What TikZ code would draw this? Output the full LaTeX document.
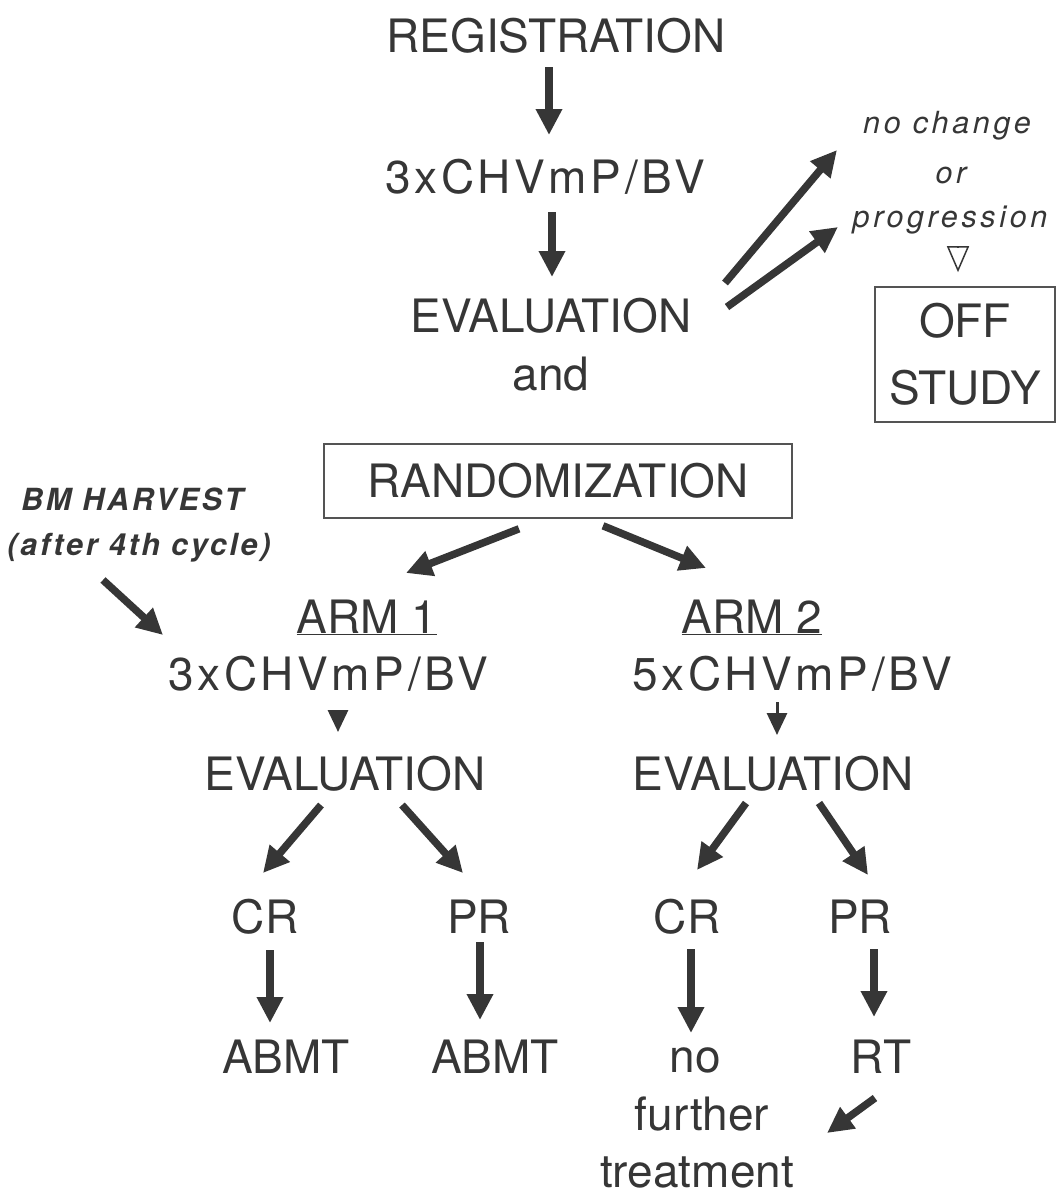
\documentclass[tikz,border=0pt]{standalone}
\usepackage{fontspec}
\setmainfont{TeX Gyre Heros}
\usetikzlibrary{arrows.meta}
\definecolor{ink}{HTML}{363636}
\newcommand\flowfont{\fontsize{46}{55}\selectfont}
\newcommand\notefont{\fontsize{30.5}{36}\selectfont\itshape\addfontfeature{LetterSpace=12}}

\begin{document}
\begin{tikzpicture}[
    x=1pt, y=-1pt,
    every node/.style={text=ink},
    txt/.style={anchor=base, inner sep=0pt, text height=33pt, text depth=0pt, font=\flowfont},
    regimen/.style={txt, font=\flowfont\addfontfeature{LetterSpace=8}},
    note/.style={anchor=base, inner sep=0pt, text height=22pt, text depth=0pt, font=\notefont},
    boldnote/.style={note, font=\fontsize{30.5}{36}\selectfont\bfseries\itshape\addfontfeature{LetterSpace=9}},
    boxed/.style={draw=ink!85, line width=1.6pt, inner sep=0pt},
    arr/.style={draw=ink, line width=7.5pt, -{Triangle[length={26pt 0},width={25pt 0}]}},
    smallarr/.style={draw=ink, line width=3pt, -{Triangle[length={22pt 0},width={20pt 0}]}},
    opentip/.style={draw=ink, line width=1.5pt, -{Triangle[open,length={26pt 0},width={22pt 0}]}}
  ]
  \useasboundingbox (0,0) rectangle (1057,1195);

  % common trunk
  \node[txt] (reg) at (556,52) {REGISTRATION};
  \node[regimen] (ind) at (545,193) {3xCHVmP/BV};
  \node[txt] (eval0) at (551,332) {EVALUATION};
  \node[txt] (andn) at (551,390) {and};
  \node[boxed, font=\flowfont, text height=33pt, text depth=0pt,
        minimum width=468pt, minimum height=74pt] (rand) at (558,481) {RANDOMIZATION};

  % off study branch
  \node[note] (nochg) at (947,133) {no change};
  \node[note] (orn) at (951,183) {or};
  \node[note] (prog) at (950,227) {progression};
  \node[boxed, align=center, font=\fontsize{46}{67}\selectfont,
        minimum width=180pt, minimum height=135pt] (off) at (965,354.5) {OFF\\STUDY};

  % marrow harvest
  \node[boldnote] (bm1) at (132,510) {BM HARVEST};
  \node[boldnote] (bm2) at (139,555) {(after 4th cycle)};

  % arm 1
  \node[txt] (arm1) at (367,633) {\underline{ARM 1}};
  \node[regimen] (reg1) at (328,690) {3xCHVmP/BV};
  \node[txt] (ev1) at (345,790) {EVALUATION};
  \node[txt] (crL) at (265,933) {CR};
  \node[txt] (prL) at (479,933) {PR};
  \node[txt] (abL) at (286,1073) {ABMT};
  \node[txt] (abR) at (495,1073) {ABMT};

  % arm 2
  \node[txt] (arm2) at (752,633) {\underline{ARM 2}};
  \node[regimen] (reg2) at (792,690) {5xCHVmP/BV};
  \node[txt] (ev2) at (773,790) {EVALUATION};
  \node[txt] (crR) at (687,933) {CR};
  \node[txt] (prR) at (860,933) {PR};
  \node[txt] (non) at (695,1072) {no};
  \node[txt] (fur) at (702,1130) {further};
  \node[txt] (trt) at (697,1187) {treatment};
  \node[txt] (rt) at (881,1073) {RT};

  % arrows
  \draw[arr] ([shift={(-7,15)}]reg.base) -- ([shift={(4,-58)}]ind.base);
  \draw[arr] ([shift={(7,19)}]ind.base) -- ([shift={(1,-55)}]eval0.base);
  \draw[arr] ([shift={(174,-49)}]eval0.base) -- ([shift={(-110,17)}]nochg.base);
  \draw[arr] ([shift={(176,-25)}]eval0.base) -- ([shift={(-112,0)}]prog.base);
  \draw[opentip] ([shift={(8,20)}]prog.base) -- ([shift={(-7,-14)}]off.north);
  \draw[arr] ([shift={(-39,10)}]rand.south) -- ([shift={(39,-60)}]arm1.base);
  \draw[arr] ([shift={(45,7)}]rand.south) -- ([shift={(-46,-65)}]arm2.base);
  \draw[arr] ([shift={(-36,25)}]bm2.base) -- ([shift={(-165,-55)}]reg1.base);

  \draw[smallarr] ([shift={(10,20)}]reg1.base) -- ([shift={(-7,-58)}]ev1.base);
  \draw[smallarr] ([shift={(-15,12)}]reg2.base) -- ([shift={(4,-55)}]ev2.base);

  \draw[arr] ([shift={(-24,15)}]ev1.base) -- ([shift={(-2,-60)}]crL.base);
  \draw[arr] ([shift={(57,15)}]ev1.base) -- ([shift={(-16,-60)}]prL.base);
  \draw[arr] ([shift={(-27,13)}]ev2.base) -- ([shift={(10,-63)}]crR.base);
  \draw[arr] ([shift={(46,13)}]ev2.base) -- ([shift={(8,-58)}]prR.base);

  \draw[arr] ([shift={(5,17)}]crL.base) -- ([shift={(-16,-50)}]abL.base);
  \draw[arr] ([shift={(1,9)}]prL.base) -- ([shift={(-15,-53)}]abR.base);
  \draw[arr] ([shift={(4,16)}]crR.base) -- ([shift={(-4,-39)}]non.base);
  \draw[arr] ([shift={(14,16)}]prR.base) -- ([shift={(-7,-56)}]rt.base);
  \draw[arr] ([shift={(-6,25)}]rt.base) -- ([shift={(125,3)}]fur.base);
\end{tikzpicture}
\end{document}
